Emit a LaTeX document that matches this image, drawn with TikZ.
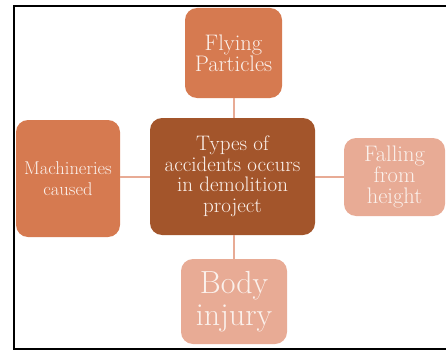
\documentclass[tikz,border=0pt]{standalone}
\usepackage{fontspec}
\usepackage{xcolor}
\definecolor{midor}{HTML}{D67A50}
\definecolor{darkor}{HTML}{A3552B}
\definecolor{lightor}{HTML}{E8AB95}
\definecolor{txt}{HTML}{FBF1EC}
\begin{document}
\begin{tikzpicture}[x=1pt,y=-1pt,
  box/.style={rounded corners=12pt, inner sep=0pt, align=center, text=txt},
  link/.style={draw=lightor, line width=2pt}]
\useasboundingbox (0,0) rectangle (446,350);
\draw[line width=2pt] (14,348) -- (14,6) -- (447,6);
\draw[line width=2pt] (13,348.5) -- (447,348.5);
% nodes
\node[box, fill=midor, minimum width=97pt, minimum height=90pt, font=\fontsize{22.5}{21}\selectfont] (fly) at (233.5,53) {Flying\\Particles};
\node[box, fill=darkor, minimum width=165pt, minimum height=117pt, font=\fontsize{21}{20.5}\selectfont] (ctr) at (232.5,176.5) {Types of\\accidents occurs\\in demolition\\project};
\node[box, fill=midor, minimum width=104pt, minimum height=117pt, font=\fontsize{18.5}{21}\selectfont] (mach) at (68,178.5) {Machineries\\caused};
\node[box, fill=lightor, minimum width=101pt, minimum height=78pt, font=\fontsize{22.5}{21}\selectfont] (fall) at (394.5,177) {Falling\\from\\height};
\node[box, fill=lightor, minimum width=106pt, minimum height=85pt, font=\fontsize{32}{32}\selectfont] (body) at (234,301.5) {Body\\injury};
% connectors
\draw[link] (fly.south) -- (fly.south |- ctr.north);
\draw[link] (ctr.south -| body.north) -- (body.north);
\draw[link] (mach.east |- ctr.west) -- (ctr.west);
\draw[link] (ctr.east) -- (ctr.east -| fall.west);
\end{tikzpicture}
\end{document}
